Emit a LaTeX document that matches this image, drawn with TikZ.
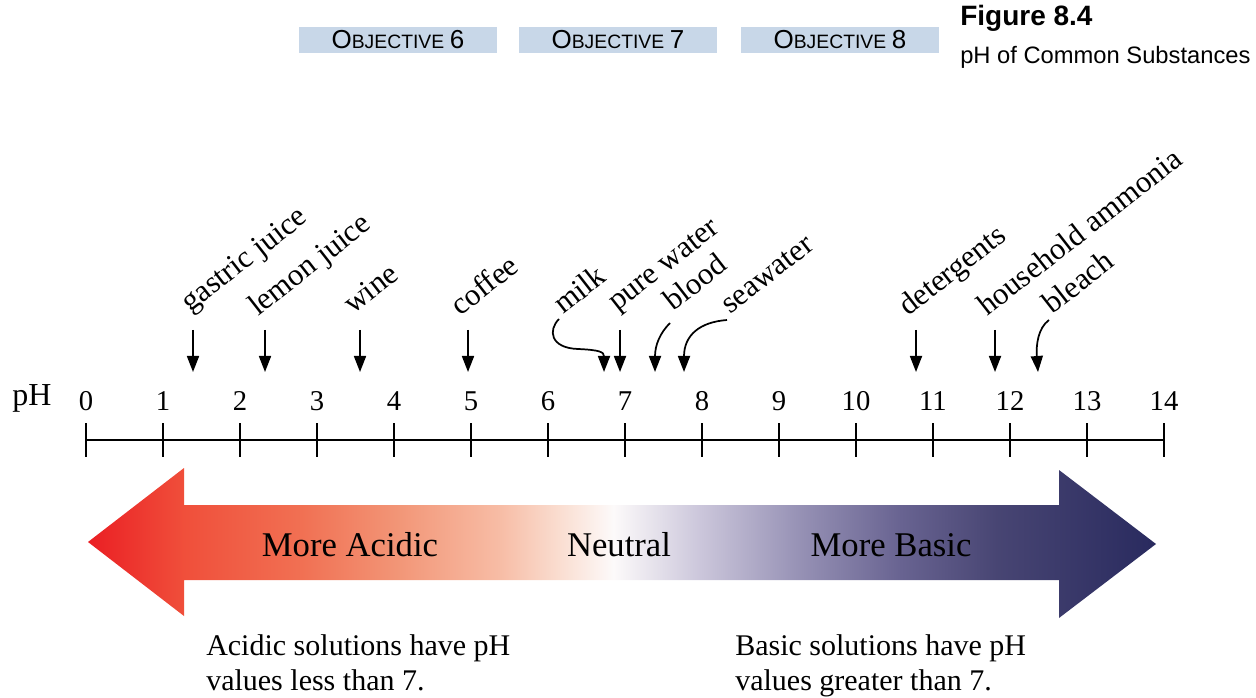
\documentclass[tikz,border=0pt]{standalone}
\usepackage{fontspec}
\setmainfont{Liberation Serif}
\newfontfamily\headfont{Liberation Sans}
\usetikzlibrary{arrows.meta}
\definecolor{objblue}{RGB}{200,215,232}
\pgfdeclarehorizontalshading{phscale}{100bp}{
  rgb(0bp)=(0.92,0.12,0.14);
  rgb(25bp)=(0.92,0.12,0.14);
  rgb(29.5bp)=(0.94,0.31,0.23);
  rgb(35bp)=(0.945,0.44,0.325);
  rgb(39.6bp)=(0.95,0.59,0.47);
  rgb(44.3bp)=(0.97,0.74,0.65);
  rgb(47.1bp)=(0.98,0.87,0.82);
  rgb(49.6bp)=(0.99,0.98,0.98);
  rgb(53.6bp)=(0.80,0.78,0.86);
  rgb(58.3bp)=(0.59,0.57,0.71);
  rgb(63bp)=(0.41,0.39,0.57);
  rgb(67.6bp)=(0.28,0.27,0.45);
  rgb(75bp)=(0.16,0.165,0.37);
  rgb(100bp)=(0.16,0.165,0.37)}
\newcommand{\objlabel}[1]{{\fontsize{19.5}{19.5}\selectfont O}{\fontsize{14.5}{14.5}\selectfont BJECTIVE}\hspace{1.5pt} {\fontsize{19.5}{19.5}\selectfont #1}}

\begin{document}
\begin{tikzpicture}[
        x=0.75pt, y=-0.75pt,
        objbox/.style = {
            fill=objblue, inner sep=0pt,
            minimum width=148.5pt, minimum height=20pt,
            font=\headfont
        },
        subst/.style = {
            rotate=38, anchor=base west, inner sep=0pt,
            font=\fontsize{23.2}{27}\selectfont
        },
        marker/.style = {
            draw, line width=1.3pt,
            -{Triangle[width=9pt,length=12pt]}
        },
        phnum/.style = {
            anchor=base, inner sep=0pt,
            font=\fontsize{21.5}{25}\selectfont
        },
        bodytext/.style = {
            inner sep=0pt,
            font=\fontsize{22.5}{26.5}\selectfont
        },
        bigtext/.style = {
            inner sep=0pt, anchor=base,
            font=\fontsize{26}{30}\selectfont
        }
    ]
        \useasboundingbox (0,0) rectangle (1256,698);

        \node[objbox] (obj6) at (398,40) {\objlabel{6}};
        \node[objbox] (obj7) at (618,40) {\objlabel{7}};
        \node[objbox] (obj8) at (840,40) {\objlabel{8}};
        \node[anchor=base west, inner sep=0pt, font=\headfont\bfseries\fontsize{21}{25}\selectfont] (figno) at (960,26) {Figure 8.4};
        \node[anchor=base west, inner sep=0pt, font=\headfont\fontsize{17.8}{21}\selectfont] (figtitle) at (960,64) {pH of Common Substances};

        \node[anchor=base west, inner sep=0pt, font=\fontsize{24}{28}\selectfont] (phlabel) at (12,406) {pH};
        \foreach \i in {0,...,14} {
            \coordinate (t\i) at (86+77*\i,440);
            \draw[line width=1.5pt] (86+77*\i,423) -- (86+77*\i,457);
            \node[phnum] (n\i) at (86+77*\i,411) {\i};
        }
        \draw[line width=1.5pt] (t0) -- (t14);

        \foreach \nm/\lx/\ly/\txt in {gastric/190/313/gastric juice, lemon/258/317/lemon juice,
                wine/353/315/wine, coffee/460/317/coffee, milk/563/315/milk,
                purewater/617/312/pure water, blood/673/312/blood, seawater/730/315/seawater,
                detergents/908/317/detergents, ammonia/987/317/household ammonia, bleach/1052/315/bleach}
            \node[subst] (\nm) at (\lx,\ly) {\txt};

        \foreach \nm/\ax in {gastric/193, lemon/265, wine/360, coffee/468, purewater/620, detergents/916, ammonia/995} {
            \coordinate (\nm-top) at (\ax,330);
            \coordinate (\nm-tip) at (\ax,372);
            \draw[marker] (\nm-top) -- (\nm-tip);
        }
        \coordinate (milk-top) at (559,319);
        \coordinate (milk-tip) at (604,372);
        \coordinate (blood-top) at (670,323);
        \coordinate (blood-tip) at (655,372);
        \coordinate (seawater-top) at (727,320);
        \coordinate (seawater-tip) at (684,372);
        \coordinate (bleach-top) at (1049,320);
        \coordinate (bleach-tip) at (1038,372);
        \draw[marker] (milk-top) .. controls (548,330) and (550,348) .. (578,349) .. controls (600,350) and (604,352) .. (milk-tip);
        \draw[marker] (blood-top) .. controls (660,333) and (655,345) .. (blood-tip);
        \draw[marker] (seawater-top) .. controls (700,322) and (684,335) .. (seawater-tip);
        \draw[marker] (bleach-top) .. controls (1038,328) and (1036,345) .. (bleach-tip);

        \shade[shading=phscale] (88,542) -- (184,468) -- (184,505) -- (1059,505) -- (1059,470)
            -- (1156,544) -- (1059,618) -- (1059,580) -- (184,580) -- (184,616) -- cycle;
        \node[bigtext] (acidic) at (350,556) {More Acidic};
        \node[bigtext] (neutral) at (619,556) {Neutral};
        \node[bigtext] (basic) at (891,556) {More Basic};

        \node[bodytext, anchor=north west, align=left] (acidnote) at (206,634) {Acidic solutions have pH\\values less than 7.};
        \node[bodytext, anchor=north west, align=left] (basenote) at (735,634) {Basic solutions have pH\\values greater than 7.};
    \end{tikzpicture}
\end{document}
